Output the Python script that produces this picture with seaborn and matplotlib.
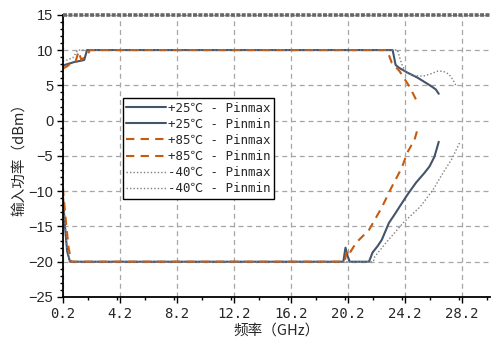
import numpy as np
import pandas as pd
import seaborn as sns
import matplotlib.pyplot as plt
from matplotlib.ticker import MultipleLocator

# frequency (GHz) / input power (dBm)
f_25_max = [0.2, 0.5, 1.0, 1.5, 1.7, 1.9, 23.36, 23.57, 23.8, 24.06, 24.4, 24.7, 25.1, 25.5, 25.9, 26.2, 26.4, 26.6]
p_25_max = [7.8, 8.0, 8.3, 8.5, 8.6, 10, 10, 7.9, 7.5, 7.2, 6.8, 6.5, 6.1, 5.6, 5.1, 4.7, 4.4, 3.8]

f_25_min = [0.2, 0.35, 0.5, 0.7, 19.9, 20.05, 20.2, 20.35, 21.7, 21.95, 22.3, 22.6, 23.1, 23.5, 23.85,
            24.4, 25.0, 25.6, 25.95, 26.3, 26.6]
p_25_min = [-10.5, -15, -18.5, -20, -20, -18.0, -19.2, -20, -20, -18.7, -17.8, -16.9, -14.5, -13.3, -12.2,
            -10.5, -8.8, -7.4, -6.5, -5.1, -3.0]

f_85_max = [0.2, 0.5, 0.8, 1.1, 1.3, 1.5, 1.95, 2.1, 22.97, 23.3, 23.85, 24.55, 25.1]
p_85_max = [7.4, 7.7, 8.2, 8.4, 9.8, 8.6, 9.4, 10, 10, 8.2, 7.0, 4.8, 2.6]

f_85_min = [0.2, 0.4, 0.6, 0.8, 20.0, 20.15, 20.4, 20.8, 21.7, 22.6, 23.3, 24.0, 24.4, 24.9, 25.1]
p_85_min = [-9.5, -14, -18, -20, -20, -18.2, -18.6, -17.3, -15.5, -12.3, -9.4, -6.7, -4.5, -2.7, -1.3]

f_40_max = [0.2, 0.5, 0.9, 1.25, 23.7, 24.0, 24.3, 24.8, 25.5, 26.0, 26.5, 26.9, 27.3, 27.6, 27.85]
p_40_max = [8.4, 8.6, 8.9, 10, 10, 8.0, 6.8, 6.4, 6.3, 6.6, 7.0, 7.0, 6.6, 5.8, 4.8]

f_40_min = [0.2, 0.35, 0.5, 0.7, 22.0, 22.1, 22.9, 24.1, 25.3, 26.2, 26.9, 27.5, 28.1]
p_40_min = [-10, -14.5, -18, -20, -20, -19.3, -17.3, -14.5, -12.2, -9.8, -7.4, -5.5, -3.0]

x_ticks = [0.2, 4.2, 8.2, 12.2, 16.2, 20.2, 24.2, 28.2]

series = [
    ("+25℃ - Pinmax", f_25_max, p_25_max, "#44546A", "-", 1.5),
    ("+25℃ - Pinmin", f_25_min, p_25_min, "#44546A", "-", 1.5),
    ("+85℃ - Pinmax", f_85_max, p_85_max, "#C55A11", (0, (4, 3)), 1.5),
    ("+85℃ - Pinmin", f_85_min, p_85_min, "#C55A11", (0, (4, 3)), 1.5),
    ("-40℃ - Pinmax", f_40_max, p_40_max, "#7F7F7F", (0, (1, 1.5)), 1.0),
    ("-40℃ - Pinmin", f_40_min, p_40_min, "#7F7F7F", (0, (1, 1.5)), 1.0),
]

sns.set_theme(style="white")
plt.rcParams['font.family'] = ['Noto Sans CJK SC', 'DejaVu Sans']
plt.rcParams['axes.unicode_minus'] = True

fig = plt.figure(figsize=(4.91, 3.40), dpi=100)
ax = fig.add_axes([0.128, 0.1265, 0.870, 0.83])

for label, f, p, color, ls, lw in series:
    df = pd.DataFrame({'f': f, 'p': p})
    sns.lineplot(data=df, x='f', y='p', ax=ax, color=color, linestyle=ls,
                 linewidth=lw, label=label, estimator=None, sort=False)

ax.set_xlim(0.2, 30.2)
ax.set_ylim(-25, 15)
ax.set_xticks(x_ticks)
ax.set_xticklabels([str(t) for t in x_ticks], family=['DejaVu Sans Mono'], fontsize=10)
ax.xaxis.set_minor_locator(MultipleLocator(2))
ax.yaxis.set_major_locator(MultipleLocator(5))
ax.yaxis.set_minor_locator(MultipleLocator(1))
for lab in ax.get_yticklabels():
    lab.set_family(['Liberation Sans'])
    lab.set_fontsize(10.5)

ax.tick_params(axis='both', which='major', direction='out', length=4, width=1, color='black', pad=3,
               left=True, bottom=True)
ax.tick_params(axis='both', which='minor', direction='out', length=2.5, width=1, color='black',
               left=True, bottom=True)

ax.grid(True, which='major', color='#A6A6A6', linestyle=(0, (4, 3)), linewidth=0.9)
# keep the 15 dBm gridline from filling the gaps of the dashed top border
ax.get_ygridlines()[-1].set_visible(False)

for s in ['left', 'bottom']:
    ax.spines[s].set_color('black')
    ax.spines[s].set_linewidth(1.3)
ax.spines['right'].set_visible(False)
ax.spines['top'].set_color('#666666')
ax.spines['top'].set_linewidth(2.6)
ax.spines['top'].set_linestyle((0, (1.1, 0.4)))
ax.spines['top'].set_capstyle('butt')

ax.set_xlabel('频率（GHz）', fontsize=10.5, labelpad=2)
ax.set_ylabel('输入功率（dBm）', fontsize=10.5, labelpad=2)

leg = ax.legend(loc='upper left', bbox_to_anchor=(0.14, 0.706), frameon=True, fancybox=False,
                edgecolor='black', framealpha=1, handlelength=3.2, handletextpad=0.1,
                labelspacing=0.25, borderpad=0.3, borderaxespad=0,
                prop={'family': ['DejaVu Sans Mono', 'Noto Sans CJK SC'], 'size': 9})
leg.get_frame().set_linewidth(1)

fig.savefig('out.png', dpi=100)
